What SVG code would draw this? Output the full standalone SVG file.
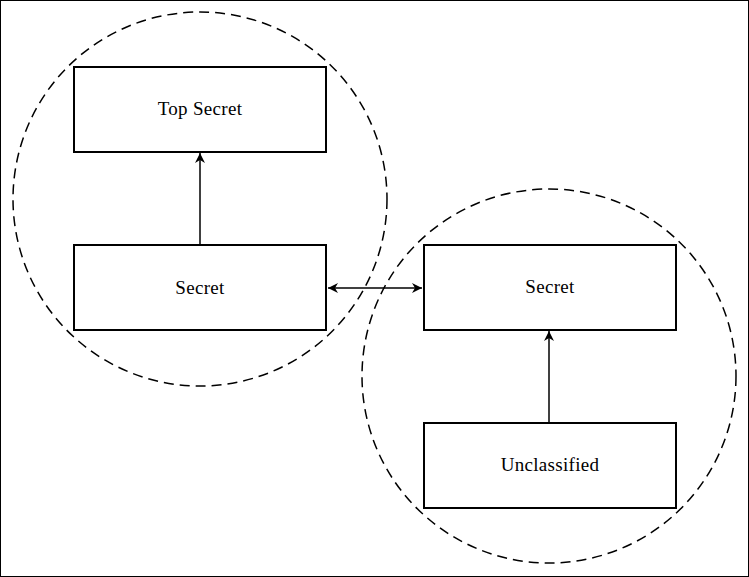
<svg xmlns="http://www.w3.org/2000/svg" width="749" height="577" viewBox="0 0 749 577">
<style>
.box{fill:#fff;stroke:#000;stroke-width:2}
.lbl{font-family:"Liberation Serif","DejaVu Serif",serif;font-size:19px;letter-spacing:0.3px;fill:#000;text-anchor:middle}
.zone{fill:none;stroke:#000;stroke-width:1.5;stroke-dasharray:10 6}
.edge{stroke:#000;stroke-width:1.5;fill:none}
</style>
<defs>
<marker id="ah" viewBox="0 0 10 10" refX="10" refY="5" markerWidth="10" markerHeight="10" markerUnits="userSpaceOnUse" orient="auto-start-reverse">
<path d="M0,0 L10,5 L0,10 L3,5 Z" fill="#000"/>
</marker>
</defs>
<rect x="0.5" y="0.5" width="748" height="576" fill="#fff" stroke="#000" stroke-width="1"/>
<g id="zones">
<circle class="zone" cx="200" cy="199" r="187"/>
<circle class="zone" cx="549" cy="376" r="187"/>
</g>
<g id="n-topsecret"><rect class="box" x="74" y="67" width="252" height="85"/><text class="lbl" x="200" y="115">Top Secret</text></g>
<g id="n-secret-left"><rect class="box" x="74" y="245" width="252" height="85"/><text class="lbl" x="200" y="294">Secret</text></g>
<g id="n-secret-right"><rect class="box" x="424" y="245" width="252" height="85"/><text class="lbl" x="550" y="293">Secret</text></g>
<g id="n-unclassified"><rect class="box" x="424" y="423" width="252" height="85"/><text class="lbl" x="550" y="471">Unclassified</text></g>
<g id="connectors">
<line class="edge" x1="200" y1="245" x2="200" y2="153" marker-end="url(#ah)"/>
<line class="edge" x1="549" y1="423" x2="549" y2="331" marker-end="url(#ah)"/>
<line class="edge" x1="328" y1="288" x2="422" y2="288" marker-start="url(#ah)" marker-end="url(#ah)"/>
</g>
</svg>
